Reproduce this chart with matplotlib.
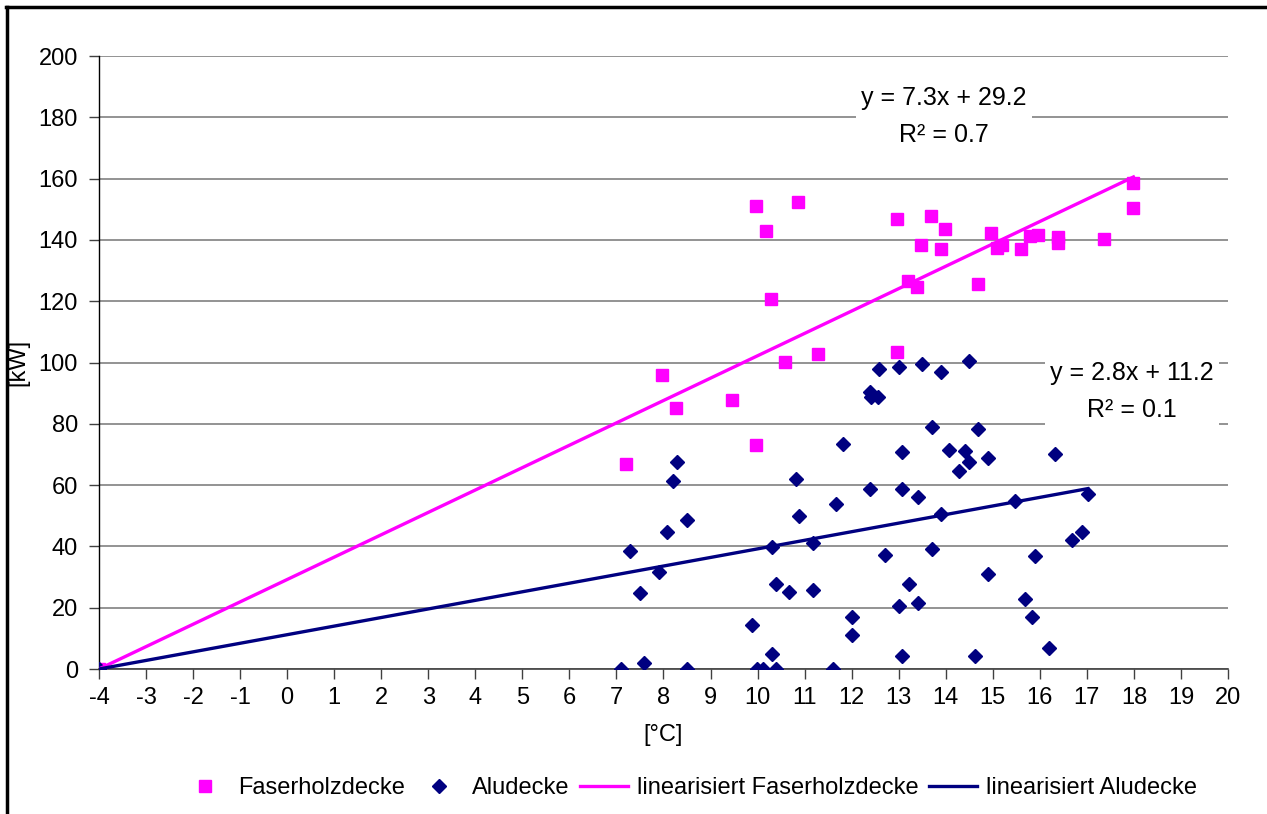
import numpy as np
import matplotlib
matplotlib.use("Agg")
import matplotlib.pyplot as plt

plt.rcParams['font.family'] = ['Liberation Sans', 'DejaVu Sans']
plt.rcParams['axes.unicode_minus'] = False

# Faserholzdecke (magenta squares)
faser_x = [-4, 7.2, 7.97, 8.27, 9.46, 9.97, 9.97, 10.17, 10.29, 10.87, 10.58, 11.28,
           12.96, 12.96, 13.69, 13.98, 13.48, 13.89, 13.2, 13.4, 14.68, 14.97, 15.08,
           15.19, 15.59, 15.8, 15.97, 16.38, 16.38, 17.37, 17.99, 17.99]
faser_y = [0, 66.8, 96.0, 85.0, 87.7, 73.1, 151.1, 142.8, 120.6, 152.4, 100.3, 102.8,
           146.7, 103.5, 147.9, 143.4, 138.5, 137.0, 126.5, 124.5, 125.7, 142.1, 137.2,
           138.5, 137.0, 141.3, 141.6, 141.0, 138.9, 140.2, 158.7, 150.4]

# Aludecke (navy diamonds)
alu_x = [-4, 7.09, 7.59, 8.49, 7.29, 7.5, 7.91, 8.07, 8.21, 8.28, 8.49, 9.89, 9.98,
         10.12, 10.4, 10.31, 10.31, 10.4, 10.67, 10.82, 10.89, 11.18, 11.18, 11.61,
         11.67, 11.81, 12.01, 12.01, 12.38, 12.59, 12.38, 12.42, 12.55, 13.01, 13.49,
         13.91, 14.49, 13.71, 14.69, 13.08, 14.07, 14.42, 14.49, 14.28, 14.9, 16.32,
         13.08, 13.42, 13.91, 15.47, 17.02, 16.89, 16.69, 12.71, 13.71, 15.9, 13.22,
         14.9, 13.0, 13.42, 15.69, 15.83, 13.08, 14.63, 16.2]
alu_y = [0, 0, 1.9, 0, 38.5, 24.7, 31.5, 44.8, 61.4, 67.6, 48.6, 14.4, 0, 0, 0, 4.9,
         39.9, 27.7, 25.2, 62.0, 50.0, 41.1, 25.9, 0, 53.7, 73.3, 17.1, 11.2, 58.8,
         98.0, 90.5, 88.8, 88.6, 98.6, 99.4, 96.8, 100.5, 79.1, 78.4, 70.8, 71.5, 71.0,
         67.6, 64.6, 69.0, 70.1, 58.7, 56.2, 50.6, 54.9, 57.2, 44.7, 42.1, 37.2, 39.1,
         37.0, 27.7, 30.9, 20.7, 21.4, 22.8, 17.1, 4.4, 4.4, 7.0]

# trendlines (slope, intercept) as printed on the chart
faser_fit = (7.3, 29.2)
alu_fit = (2.8, 11.2)

x_ticks = list(range(-4, 21))
y_ticks = list(range(0, 201, 20))

fig = plt.figure(figsize=(12.67, 8.14), dpi=100)
ax = fig.add_axes([0.0781, 0.1781, 0.8911, 0.7531])

fs = 17

ax.plot(faser_x, faser_y, linestyle='none', marker='s', markersize=8,
        color='#FF00FF', zorder=3, label='Faserholzdecke')
ax.plot(alu_x, alu_y, linestyle='none', marker='D', markersize=7.2,
        color='#000080', zorder=4, label='Aludecke')

fx = np.array([min(faser_x), max(faser_x)])
ax.plot(fx, faser_fit[0] * fx + faser_fit[1], color='#FF00FF', lw=2.4, zorder=5,
        label='linearisiert Faserholzdecke')
lx = np.array([min(alu_x), max(alu_x)])
ax.plot(lx, alu_fit[0] * lx + alu_fit[1], color='#000080', lw=2.4, zorder=5,
        label='linearisiert Aludecke')

ax.set_xlim(-4, 20)
ax.set_ylim(0, 200)
ax.set_xticks(x_ticks)
ax.set_yticks(y_ticks)
ax.tick_params(axis='both', labelsize=fs, length=7, width=1, color='#404040')
ax.tick_params(axis='x', pad=6)
ax.tick_params(axis='y', pad=8)
ax.grid(axis='y', color='#808080', lw=1.2, zorder=1)
ax.set_axisbelow(True)
for s in ['top', 'right']:
    ax.spines[s].set_visible(False)
ax.spines['left'].set_color('black')
ax.spines['left'].set_linewidth(1)
ax.spines['bottom'].set_color('#404040')
ax.spines['bottom'].set_linewidth(1.2)

ax.set_xlabel('[°C]', fontsize=fs, labelpad=11)
fig.text(18 / 1267, 1 - 362 / 814, '[kW]', fontsize=fs, rotation=90,
         ha='center', va='center')

# trendline equations
box = dict(facecolor='white', edgecolor='none', pad=4)
ax.text(13.96, 180.3, 'y = 7.3x + 29.2\nR² = 0.7', fontsize=18, ha='center',
        va='center', linespacing=1.65, bbox=box, zorder=6)
ax.text(17.96, 90.5, 'y = 2.8x + 11.2\nR² = 0.1', fontsize=18, ha='center',
        va='center', linespacing=1.65, bbox=box, zorder=6)

fig.legend(loc='center', bbox_to_anchor=(0.544, 0.032), ncol=4, frameon=False,
           fontsize=fs, handlelength=2.0, handletextpad=0.4, columnspacing=0.45,
           borderaxespad=0)

# outer border (top and left visible)
fig.add_artist(plt.Line2D([0.0055, 0.0055], [0, 0.991], transform=fig.transFigure,
                          color='black', lw=2.5))
fig.add_artist(plt.Line2D([0.0045, 1.0], [0.991, 0.991], transform=fig.transFigure,
                          color='black', lw=2.5))

fig.savefig('out.png', dpi=100)
